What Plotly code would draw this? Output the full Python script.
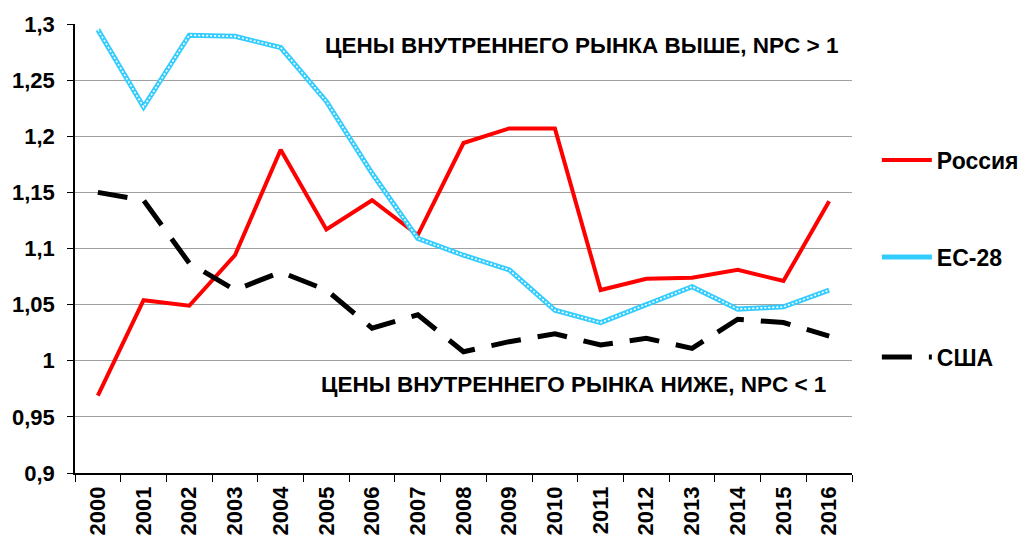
import plotly.graph_objects as go

years = [str(y) for y in range(2000, 2017)]
russia = [0.969, 1.054, 1.049, 1.094, 1.188, 1.117, 1.143, 1.112, 1.194, 1.207, 1.207,
          1.063, 1.073, 1.074, 1.081, 1.071, 1.142]
eu28 = [1.295, 1.226, 1.290, 1.289, 1.279, 1.231, 1.167, 1.109, 1.094, 1.081, 1.045,
        1.034, 1.050, 1.066, 1.046, 1.048, 1.063]
usa = [1.150, 1.143, 1.087, 1.063, 1.079, 1.063, 1.029, 1.041, 1.008, 1.017, 1.024,
       1.014, 1.020, 1.011, 1.037, 1.034, 1.022]
names = ["Россия", "ЕС-28", "США"]
y_ticks = [0.9, 0.95, 1.0, 1.05, 1.1, 1.15, 1.2, 1.25, 1.3]
y_ticktext = ["0,9", "0,95", "1", "1,05", "1,1", "1,15", "1,2", "1,25", "1,3"]
note_high = "ЦЕНЫ ВНУТРЕННЕГО РЫНКА ВЫШЕ, NPC > 1"
note_low = "ЦЕНЫ ВНУТРЕННЕГО РЫНКА НИЖЕ, NPC < 1"

FONT = "Liberation Sans, Arial, sans-serif"

fig = go.Figure()
fig.add_trace(go.Scatter(x=years, y=russia, name=names[0], mode="lines",
                         line=dict(color="#FF0000", width=4), legend="legend"))
fig.add_trace(go.Scatter(x=years, y=eu28, name=names[1], mode="lines",
                         line=dict(color="#33CCFF", width=5), legend="legend2"))
fig.add_trace(go.Scatter(x=years, y=eu28, name=names[1], mode="lines", showlegend=False,
                         hoverinfo="skip",
                         line=dict(color="#FFFFFF", width=1.6, dash="2px,2px")))
fig.add_trace(go.Scatter(x=years, y=usa, name=names[2], mode="lines",
                         line=dict(color="#000000", width=5, dash="30px,17px"),
                         legend="legend3"))

fig.add_annotation(x=0.652, y=0.953, xref="paper", yref="paper", text=note_high,
                   showarrow=False, xanchor="center", yanchor="middle",
                   font=dict(family=FONT, size=22.5, color="#000000", weight="bold"))
fig.add_annotation(x=0.642, y=0.196, xref="paper", yref="paper", text=note_low,
                   showarrow=False, xanchor="center", yanchor="middle",
                   font=dict(family=FONT, size=22.5, color="#000000", weight="bold"))

leg_common = dict(xanchor="left", yanchor="middle", bgcolor="rgba(0,0,0,0)",
                  font=dict(family=FONT, size=23, color="#000000", weight="bold"),
                  itemwidth=50)
fig.update_layout(
    template="none",
    width=1022, height=539,
    margin=dict(l=75, r=170, t=24, b=66, autoexpand=False),
    paper_bgcolor="white", plot_bgcolor="white",
    font=dict(family=FONT, color="#000000"),
    legend=dict(x=1.032, y=0.697, **leg_common),
    legend2=dict(x=1.032, y=0.481, **leg_common),
    legend3=dict(x=1.032, y=0.258, **leg_common),
    xaxis=dict(type="category", tickson="boundaries", ticks="outside", ticklen=7,
               tickcolor="#000000", tickwidth=1.2, showline=True, linecolor="#000000",
               linewidth=1.5, showgrid=False, tickangle=-90, ticklabelstandoff=3,
               automargin=False,
               tickfont=dict(family=FONT, size=22, color="#000000", weight="bold"),
               range=[-0.5, 16.5]),
    yaxis=dict(range=[0.9, 1.3], tickvals=y_ticks, ticktext=y_ticktext,
               ticks="outside", ticklen=6, tickcolor="#000000", tickwidth=1.2,
               showline=True, linecolor="#000000", linewidth=1.5,
               showgrid=True, gridcolor="#A0A0A0", gridwidth=1, zeroline=False,
               ticklabelstandoff=8, automargin=False,
               tickfont=dict(family=FONT, size=22, color="#000000", weight="bold")),
)

fig.write_html("out.html", config={"displayModeBar": False},
               post_script="document.body.style.margin='0';document.body.style.overflow='hidden';")
